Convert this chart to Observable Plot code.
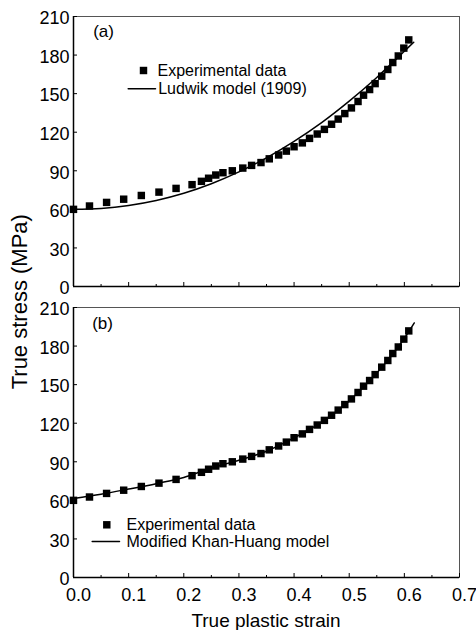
<!DOCTYPE html>
<html><head><meta charset="utf-8">
<script src="https://cdn.jsdelivr.net/npm/d3@7"></script>
<script src="https://cdn.jsdelivr.net/npm/@observablehq/plot@0.6"></script>
<style>body{margin:0;background:#fff;} #chart{width:476px;height:630px;}</style>
</head><body><div id="chart"></div>
<script>
// Experimental data (same in both panels)
const strain = [0, 0.029, 0.060, 0.091, 0.123, 0.155, 0.186, 0.215, 0.232, 0.245, 0.258, 0.271, 0.288, 0.307, 0.323, 0.340, 0.355, 0.372, 0.386, 0.400, 0.415, 0.428, 0.442, 0.455, 0.468, 0.480, 0.492, 0.504, 0.516, 0.526, 0.537, 0.547, 0.559, 0.570, 0.579, 0.589, 0.599, 0.608];
const stress = [60, 62.6, 65.4, 67.9, 70.8, 73.4, 76.3, 79.2, 81.8, 84.2, 86.7, 88.5, 90, 92.1, 94.2, 96.4, 99.3, 102.3, 105.3, 108.7, 111.7, 115.2, 118.6, 122.2, 126.2, 130.2, 134.5, 138.9, 143.9, 148.8, 153.2, 157.8, 163.6, 168.8, 174.2, 179.3, 185.4, 191.8];
// Ludwik model (panel a)
const ludwikStrain = [0, 0.05, 0.10, 0.15, 0.20, 0.25, 0.30, 0.35, 0.40, 0.45, 0.50, 0.55, 0.60, 0.617];
const ludwikStress = [60, 60.7, 63, 66.9, 72.5, 79.9, 89.1, 100.1, 112.9, 127.5, 144.2, 162.6, 183, 190];
// Modified Khan-Huang model (panel b)
const khStrain = [0, 0.05, 0.10, 0.15, 0.20, 0.25, 0.30, 0.35, 0.40, 0.45, 0.50, 0.55, 0.575, 0.60, 0.618];
const khStress = [61.5, 64.8, 68.8, 73, 77.8, 85.2, 91.2, 98.2, 108.6, 120.8, 137.4, 159, 171.6, 186, 198];
// Ticks and labels
const xTicks = [0, 0.1, 0.2, 0.3, 0.4, 0.5, 0.6, 0.7];
const xMinorTicks = [0.05, 0.15, 0.25, 0.35, 0.45, 0.55, 0.65];
const yTicks = [0, 30, 60, 90, 120, 150, 180, 210];
const panels = ["(a)", "(b)"];
const legendA = ["Experimental data", "Ludwik model (1909)"];
const legendB = ["Experimental data", "Modified Khan-Huang model"];

const expData = panels.flatMap(p => strain.map((x, i) => ({panel: p, x, y: stress[i]})));
const modelData = [
  ...ludwikStrain.map((x, i) => ({panel: panels[0], x, y: ludwikStress[i]})),
  ...khStrain.map((x, i) => ({panel: panels[1], x, y: khStress[i]}))
];

const font = "'Liberation Sans', Arial, Helvetica, sans-serif";
const lineShape = {draw(ctx, l) { ctx.moveTo(0, 0); ctx.lineTo(0, -l); }};

const legendText = (txt, panel, dx, dy) => Plot.text([txt], {fy: [panel], frameAnchor: "top-left", dx, dy, textAnchor: "start", lineAnchor: "middle", fontSize: 16, fill: "#000"});
const legendSquare = (panel, dx, dy) => Plot.dot([0], {fy: [panel], frameAnchor: "top-left", dx, dy, symbol: "square", r: 4.2, fill: "#000", stroke: "none"});
const legendLine = (panel, dx, dy) => Plot.vector([0], {fy: [panel], frameAnchor: "top-left", dx, dy, length: 27.3, rotate: 90, anchor: "start", shape: lineShape, stroke: "#000", strokeWidth: 1.5});

const plot = Plot.plot({
  width: 476, height: 630,
  marginTop: 15, marginBottom: 53, marginLeft: 73, marginRight: 17,
  style: {fontFamily: font, background: "#fff", color: "#000", overflow: "visible"},
  x: {domain: [0, 0.7]},
  y: {domain: [0, 210]},
  fy: {domain: panels, axis: null, paddingInner: 0.0734, paddingOuter: 0},
  marks: [
    Plot.frame({stroke: "#555", strokeWidth: 1}),
    Plot.ruleX([0], {stroke: "#000", strokeWidth: 1.5}),
    Plot.ruleY([0], {stroke: "#000", strokeWidth: 1.5}),
    Plot.axisY({ticks: yTicks, tickSize: -4, fill: "none", label: null, facetAnchor: null}),
    Plot.axisY({ticks: yTicks, tickSize: 0, tickPadding: 4, fontSize: 18, dy: 2, label: null, facetAnchor: null}),
    Plot.axisX({ticks: xTicks, tickSize: -4, fill: "none", label: null, facetAnchor: null}),
    Plot.axisX({ticks: xMinorTicks, tickSize: -2, fill: "none", label: null, facetAnchor: null}),
    Plot.axisX({ticks: xTicks, tickSize: 0, tickPadding: 11, tickFormat: d3.format(".1f"), fontSize: 18, dx: 5, label: null}),
    Plot.line(modelData, {x: "x", y: "y", fy: "panel", z: "panel", curve: "catmull-rom", stroke: "#000", strokeWidth: 1.5}),
    Plot.dot(expData, {x: "x", y: "y", fy: "panel", symbol: "square", r: 4.2, fill: "#000", stroke: "none"}),
    Plot.text([panels[0]], {fy: [panels[0]], frameAnchor: "top-left", dx: 19.7, dy: 15, textAnchor: "start", lineAnchor: "middle", fontSize: 17, fill: "#000"}),
    Plot.text([panels[1]], {fy: [panels[1]], frameAnchor: "top-left", dx: 18.7, dy: 16.5, textAnchor: "start", lineAnchor: "middle", fontSize: 17, fill: "#000"}),
    legendSquare(panels[0], 70, 54),
    legendText(legendA[0], panels[0], 84, 54),
    legendLine(panels[0], 54.7, 72.3),
    legendText(legendA[1], panels[0], 84.7, 72.8),
    legendSquare(panels[1], 33.3, 217.3),
    legendText(legendB[0], panels[1], 53, 217.5),
    legendLine(panels[1], 18.7, 234),
    legendText(legendB[1], panels[1], 53, 234.1)
  ]
});

const svg = d3.select(plot);
svg.append("text")
  .attr("transform", "translate(27,301.7) rotate(-90)")
  .attr("text-anchor", "middle")
  .attr("fill", "#000")
  .style("font-size", "22px")
  .style("font-family", font)
  .text("True stress (MPa)");
svg.append("text")
  .attr("x", 266)
  .attr("y", 626.5)
  .attr("text-anchor", "middle")
  .attr("fill", "#000")
  .style("font-size", "19px")
  .style("font-family", font)
  .text("True plastic strain");

document.getElementById("chart").appendChild(plot);
</script>
</body></html>
